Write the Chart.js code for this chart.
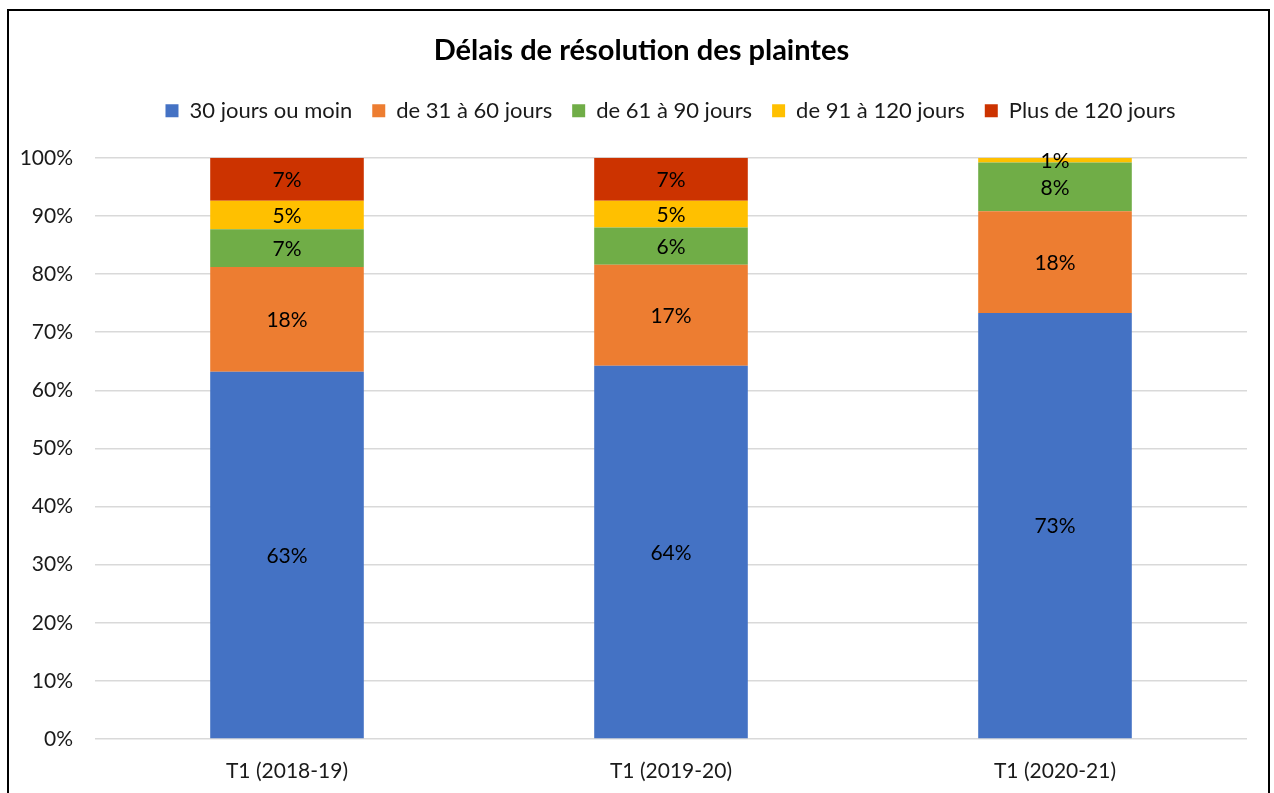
<!DOCTYPE html>
<html lang="fr">
<head>
<meta charset="utf-8">
<title>Délais de résolution des plaintes</title>
<script src="https://cdn.jsdelivr.net/npm/chart.js@4/dist/chart.umd.min.js"></script>
<style>
  html, body { margin: 0; padding: 0; background: #fff; }
  #wrap { position: relative; width: 1274px; height: 793px; }
  #frame {
    position: absolute; left: 7px; top: 9px; width: 1263px; height: 800px;
    border: 2px solid #000; box-sizing: border-box; pointer-events: none;
  }
</style>
</head>
<body>
<div id="wrap">
  <canvas id="chart" width="1274" height="793"></canvas>
  <div id="frame"></div>
</div>
<script>
// Data (percent of complaints)
const periods = ["T1 (2018-19)", "T1 (2019-20)", "T1 (2020-21)"];
const seriesNames = ["30 jours ou moin", "de 31 à 60 jours", "de 61 à 90 jours", "de 91 à 120 jours", "Plus de 120 jours"];
const upTo30 = [63.2, 64.2, 73.3];
const from31to60 = [18.0, 17.4, 17.5];
const from61to90 = [6.5, 6.4, 8.4];
const from91to120 = [4.9, 4.6, 0.8];
const over120 = [7.4, 7.4, 0];
const yTicks = [0, 10, 20, 30, 40, 50, 60, 70, 80, 90, 100];

const colors = ["#4472C4", "#ED7D31", "#70AD47", "#FFC000", "#CC3300"];
const FONT = "Lato, 'Liberation Sans', sans-serif";

const allSeries = [upTo30, from31to60, from61to90, from91to120, over120];

// draws the rounded percentage in the middle of each segment
const segmentLabels = {
    id: "segmentLabels",
    afterDatasetsDraw(chart) {
        const ctx = chart.ctx;
        ctx.save();
        ctx.font = "21px " + FONT;
        ctx.fillStyle = "#000";
        ctx.textAlign = "center";
        ctx.textBaseline = "middle";
        chart.data.datasets.forEach((ds, i) => {
            const meta = chart.getDatasetMeta(i);
            meta.data.forEach((bar, j) => {
                const v = ds.data[j];
                if (!v) return;
                const mid = (bar.y + bar.base) / 2;
                ctx.fillText(Math.round(v) + "%", bar.x, mid + 1);
            });
        });
        ctx.restore();
    }
};

// shift a layout box sideways when drawing
function nudge(box, dx) {
    const drawOrig = box.draw;
    box.draw = function (...args) {
        const c = this.ctx;
        c.save();
        c.translate(dx, 0);
        drawOrig.apply(this, args);
        c.restore();
    };
}

// extra room under the legend, and Excel-like horizontal offsets
const headerTweaks = {
    id: "headerTweaks",
    beforeInit(chart) {
        const fitOrig = chart.legend.fit;
        chart.legend.fit = function () {
            fitOrig.bind(chart.legend)();
            this.height += 26;
        };
        nudge(chart.legend, 47);
        nudge(chart.titleBlock, 18);
    }
};

const ctx = document.getElementById("chart").getContext("2d");
new Chart(ctx, {
    type: "bar",
    data: {
        labels: periods,
        datasets: allSeries.map((vals, i) => ({
            label: seriesNames[i],
            data: vals,
            backgroundColor: colors[i],
            borderWidth: 0,
            barPercentage: 0.4,
            categoryPercentage: 1.0,
        })),
    },
    options: {
        responsive: false,
        animation: false,
        layout: { padding: { top: 10, right: 27, left: 0, bottom: 0 } },
        plugins: {
            title: {
                display: true,
                text: "Délais de résolution des plaintes",
                color: "#000",
                font: { family: FONT, size: 29, weight: "bold" },
                padding: { top: 23, bottom: 12 },
            },
            legend: {
                position: "top",
                labels: {
                    boxWidth: 13,
                    boxHeight: 13,
                    color: "#1a1a1a",
                    font: { family: FONT, size: 22 },
                    padding: 20,
                },
            },
            tooltip: { enabled: false },
        },
        scales: {
            x: {
                stacked: true,
                grid: { display: false, drawTicks: false },
                border: { display: false },
                ticks: { color: "#1a1a1a", font: { family: FONT, size: 21 }, padding: 20 },
                afterFit(scale) { scale.height = 54; },
            },
            y: {
                stacked: true,
                min: 0,
                max: 100,
                afterBuildTicks(scale) { scale.ticks = yTicks.map(v => ({ value: v })); },
                grid: { color: "#d9d9d9", lineWidth: 1.5, drawTicks: false },
                border: { display: false },
                ticks: {
                    color: "#1a1a1a",
                    font: { family: FONT, size: 21 },
                    padding: 22,
                    callback: v => v + "%",
                },
                afterFit(scale) { scale.width = 95; },
            },
        },
    },
    plugins: [segmentLabels, headerTweaks],
});
</script>
</body>
</html>
